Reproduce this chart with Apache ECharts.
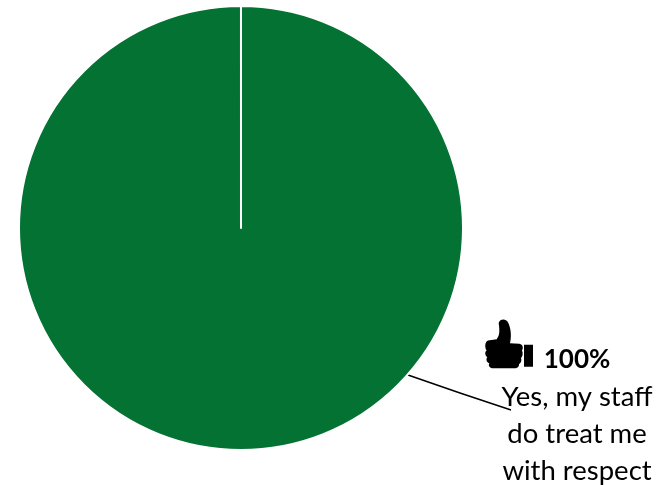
<!DOCTYPE html>
<html>
<head>
<meta charset="utf-8">
<style>html,body{margin:0;padding:0;background:#fff}#c{width:670px;height:485px}</style>
<script src="https://cdn.jsdelivr.net/npm/echarts@6/dist/echarts.min.js"></script>
</head>
<body>
<div id="c"></div>
<script>
const categories = ['Yes, my staff\ndo treat me\nwith respect'];
const values = [100];
const percentLabel = '100%';

const thumb = '<svg xmlns="http://www.w3.org/2000/svg" viewBox="250 55 150 155"><path fill="#000" d="M262 122 L288 118 C296 108 298 98 294 70 C298 56 318 56 324 72 C332 92 332 112 328 130 L356 132 C368 134 368 146 364 152 C368 160 366 170 361 174 C364 182 360 190 355 192 C356 202 348 205 340 205 L278 205 C266 205 262 196 266 190 C256 186 256 176 260 172 C252 166 252 156 258 152 C252 144 252 126 262 122 Z M370 135 H397 V200 H370 Z"/></svg>';

const chart = echarts.init(document.getElementById('c'), null, {renderer: 'canvas'});
chart.setOption({
  animation: false,
  backgroundColor: '#fff',
  graphic: [{
    type: 'image', left: 484, top: 318,
    style: {image: 'data:image/svg+xml;charset=utf-8,' + encodeURIComponent(thumb), width: 50, height: 52}
  }],
  series: [{
    type: 'pie',
    center: [241, 228],
    radius: [0, 222],
    startAngle: 90,
    endAngle: -269.99,
    itemStyle: {color: '#037233', borderColor: '#fff', borderWidth: 2},
    emphasis: {disabled: true},
    label: {
      show: true,
      formatter: p => '{pct|' + percentLabel + '}\n{txt|' + p.name.split('\n').join('}\n{txt|') + '}',
      rich: {
        pct: {fontFamily: 'Lato', fontWeight: 'bold', fontSize: 26, color: '#000', lineHeight: 38, align: 'center'},
        txt: {fontFamily: 'Lato', fontSize: 27.5, color: '#000', lineHeight: 37, align: 'center'}
      }
    },
    labelLine: {show: true, lineStyle: {color: '#000', width: 1.5}},
    labelLayout: () => ({
      x: 577, y: 415, align: 'center', verticalAlign: 'middle',
      labelLinePoints: [[408, 375], [460, 393], [511, 410]]
    }),
    data: categories.map((name, i) => ({name, value: values[i]}))
  }]
});
</script>
</body>
</html>
